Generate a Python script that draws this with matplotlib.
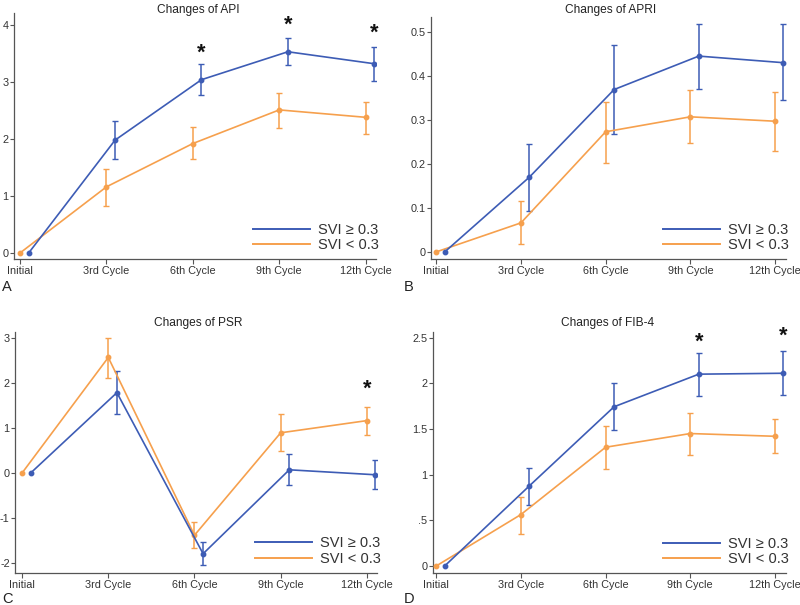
import matplotlib
matplotlib.use("Agg")
import matplotlib.pyplot as plt
import numpy as np

plt.rcParams["font.family"] = ["Liberation Sans", "DejaVu Sans"]

cycles = ["Initial", "3rd Cycle", "6th Cycle", "9th Cycle", "12th Cycle"]
legend_hi = "SVI \u2265 0.3"
legend_lo = "SVI < 0.3"

# Panel A: API
api_hi = [0, 1.98, 3.04, 3.53, 3.32]
api_hi_lo = [0, 1.64, 2.77, 3.29, 3.02]
api_hi_up = [0, 2.31, 3.31, 3.78, 3.62]
api_lo = [0, 1.16, 1.92, 2.51, 2.38]
api_lo_lo = [0, 0.82, 1.64, 2.20, 2.08]
api_lo_up = [0, 1.48, 2.21, 2.80, 2.65]
api_star = [(2, "hi", 3.51), (3, "hi", 4.00), (4, "hi", 3.85)]

# Panel B: APRI
apri_hi = [0, 0.170, 0.369, 0.445, 0.430]
apri_hi_lo = [0, 0.094, 0.267, 0.370, 0.346]
apri_hi_up = [0, 0.245, 0.471, 0.519, 0.517]
apri_lo = [0, 0.066, 0.273, 0.307, 0.297]
apri_lo_lo = [0, 0.017, 0.202, 0.248, 0.229]
apri_lo_up = [0, 0.115, 0.341, 0.367, 0.364]
apri_star = []

# Panel C: PSR
psr_hi = [0, 1.78, -1.79, 0.07, -0.04]
psr_hi_lo = [0, 1.31, -2.05, -0.27, -0.35]
psr_hi_up = [0, 2.26, -1.54, 0.41, 0.29]
psr_lo = [0, 2.56, -1.38, 0.89, 1.16]
psr_lo_lo = [0, 2.10, -1.67, 0.49, 0.84]
psr_lo_up = [0, 3.00, -1.09, 1.30, 1.47]
psr_star = [(4, "lo", 1.85)]

# Panel D: FIB-4
fib_hi = [0, 0.877, 1.743, 2.10, 2.11]
fib_hi_lo = [0, 0.67, 1.49, 1.86, 1.87]
fib_hi_up = [0, 1.07, 2.00, 2.33, 2.35]
fib_lo = [0, 0.563, 1.30, 1.45, 1.42]
fib_lo_lo = [0, 0.355, 1.06, 1.22, 1.24]
fib_lo_up = [0, 0.757, 1.53, 1.67, 1.61]
fib_star = [(3, "hi", 2.45), (4, "hi", 2.52)]

BLUE = "#3d5cb5"
ORANGE = "#f6a04d"
AXC = "#555555"
TXT = "#333333"

W, H = 800, 605
fig = plt.figure(figsize=(8, 6.05), dpi=100)

panels = [
    dict(rect=[0.0175, 0.572, 0.4525, 0.4065], title="Changes of API", letter="A",
         tpos=(198, 10), lpos=(2, 287),
         hi=(api_hi, api_hi_lo, api_hi_up), lo=(api_lo, api_lo_lo, api_lo_up),
         stars=api_star, ylim=(-0.105, 4.21), yticks=[0, 1, 2, 3, 4],
         ylabels=["0", "1", "2", "3", "4"], xlim=(-0.07, 4.12)),
    dict(rect=[0.539, 0.572, 0.4435, 0.400], title="Changes of APRI", letter="B",
         tpos=(611, 10), lpos=(404, 287),
         hi=(apri_hi, apri_hi_lo, apri_hi_up), lo=(apri_lo, apri_lo_lo, apri_lo_up),
         stars=apri_star, ylim=(-0.016, 0.534), yticks=[0, 0.1, 0.2, 0.3, 0.4, 0.5],
         ylabels=["0", "0.1", "0.2", "0.3", "0.4", "0.5"], xlim=(-0.06, 4.13)),
    dict(rect=[0.019, 0.0534, 0.4525, 0.3983], title="Changes of PSR", letter="C",
         tpos=(198, 323), lpos=(2, 599),
         hi=(psr_hi, psr_hi_lo, psr_hi_up), lo=(psr_lo, psr_lo_lo, psr_lo_up),
         stars=psr_star, ylim=(-2.21, 3.13), yticks=[-2, -1, 0, 1, 2, 3],
         ylabels=["-2", "-1", "0", "1", "2", "3"], xlim=(-0.08, 4.12)),
    dict(rect=[0.541, 0.0524, 0.4415, 0.3986], title="Changes of FIB-4", letter="D",
         tpos=(608, 323), lpos=(404, 599),
         hi=(fib_hi, fib_hi_lo, fib_hi_up), lo=(fib_lo, fib_lo_lo, fib_lo_up),
         stars=fib_star, ylim=(-0.08, 2.56), yticks=[0, 0.5, 1, 1.5, 2, 2.5],
         ylabels=["0", ".5", "1", "1.5", "2", "2.5"], xlim=(-0.04, 4.13)),
]

x = np.arange(len(cycles))
off = 0.1

for p in panels:
    ax = fig.add_axes(p["rect"])
    for (vals, lo_, up_), col, dx, lab in [
        (p["lo"], ORANGE, 0.0, legend_lo),
        (p["hi"], BLUE, off, legend_hi),
    ]:
        v = np.array(vals)
        yerr = np.vstack([v - np.array(lo_), np.array(up_) - v])
        xs = x + dx
        ax.errorbar(xs[1:], v[1:], yerr=yerr[:, 1:], fmt="none", ecolor=col,
                    elinewidth=1.1, capsize=2.5, capthick=1.0, zorder=2)
        ax.plot(xs, v, color=col, lw=1.2, marker="o", ms=3.2, zorder=3, label=lab)
    for idx, grp, yv in p["stars"]:
        sx = idx + (off if grp == "hi" else 0.0)
        ax.text(sx, yv, "*", ha="center", va="center", fontsize=15.5,
                fontweight="bold", color="#111111")
    ax.set_xlim(*p["xlim"])
    ax.set_ylim(*p["ylim"])
    ax.set_xticks(x)
    ax.set_xticklabels(cycles, fontsize=7.8, color=TXT)
    ax.set_yticks(p["yticks"])
    ax.set_yticklabels(p["ylabels"], fontsize=7.8, color=TXT)
    for s in ["top", "right"]:
        ax.spines[s].set_visible(False)
    for s in ["left", "bottom"]:
        ax.spines[s].set_color(AXC)
        ax.spines[s].set_linewidth(0.9)
    ax.tick_params(axis="x", direction="out", length=3.5, width=0.8, color=AXC, pad=1.5)
    ax.tick_params(axis="y", direction="out", length=3.0, width=0.8, color=AXC, pad=1.0)
    fig.text(p["tpos"][0] / W, 1 - p["tpos"][1] / H, p["title"], fontsize=8.6,
             color="#222222", ha="center", va="center")
    handles, labels = ax.get_legend_handles_labels()
    leg = ax.legend(handles[::-1], labels[::-1], loc="lower right", frameon=False,
                    fontsize=10.5, handlelength=3.9, handletextpad=0.55,
                    labelspacing=0.08, borderaxespad=0.0,
                    bbox_to_anchor=(1.025, 0.005))
    for h in leg.get_lines():
        h.set_marker("")
        h.set_linewidth(1.4)
    for t in leg.get_texts():
        t.set_color(TXT)
    fig.text(p["lpos"][0] / W, 1 - p["lpos"][1] / H, p["letter"], fontsize=10.5,
             color="#222222", ha="left", va="center")

fig.savefig("out.png", dpi=100)
